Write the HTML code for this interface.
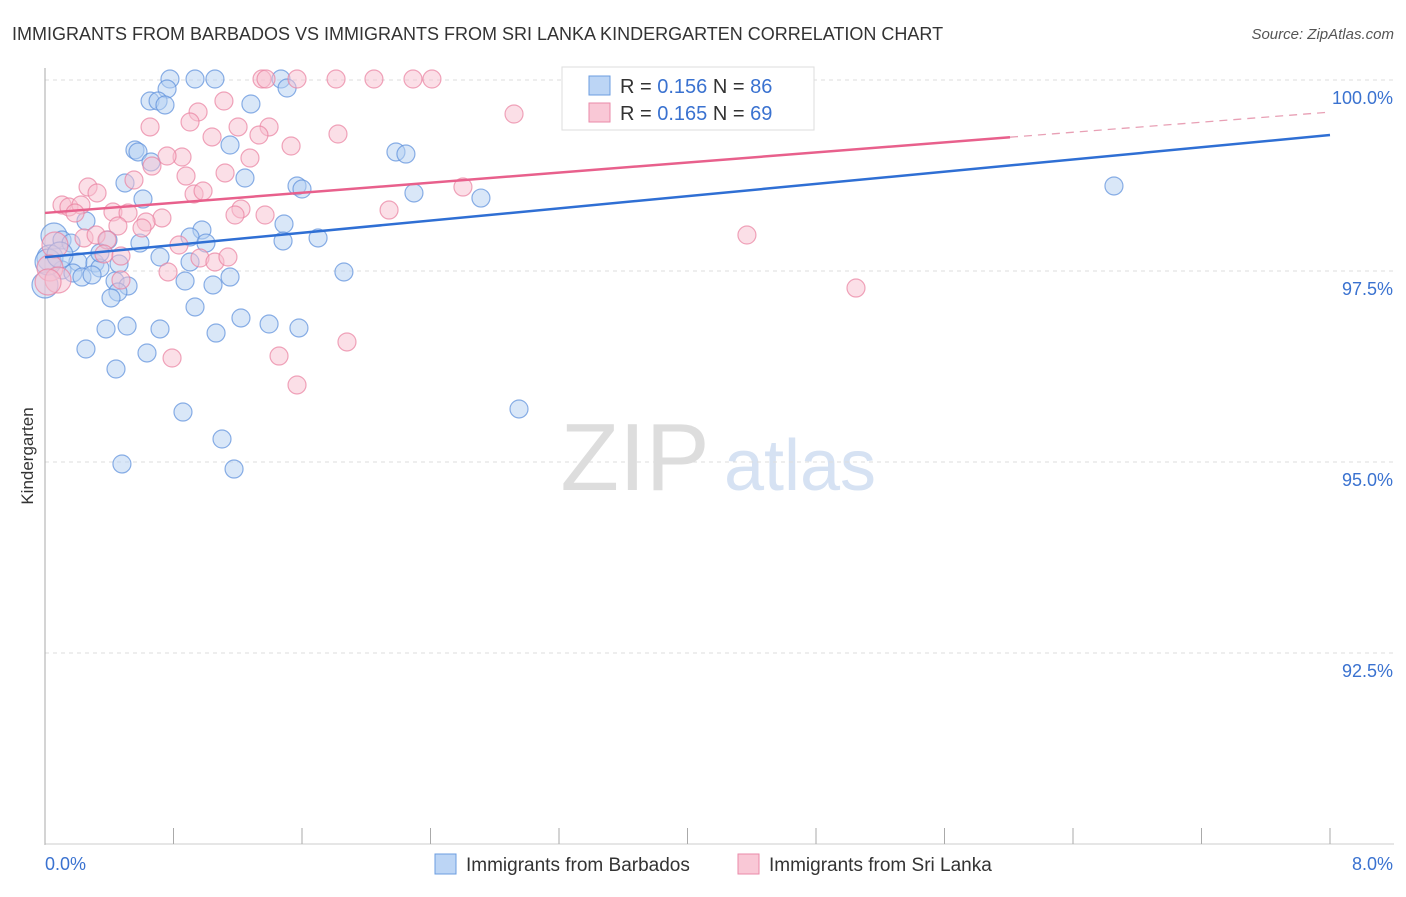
<!DOCTYPE html>
<html><head><meta charset="utf-8"><style>
body{margin:0;background:#fff;font-family:"Liberation Sans",sans-serif;}
svg text{font-family:"Liberation Sans",sans-serif;}
</style></head><body>
<svg id="c" width="1406" height="892" xmlns="http://www.w3.org/2000/svg">
<text x="12" y="40" font-size="18" fill="#333">IMMIGRANTS FROM BARBADOS VS IMMIGRANTS FROM SRI LANKA KINDERGARTEN CORRELATION CHART</text>
<text x="1394" y="39" font-size="15" fill="#555" text-anchor="end" font-style="italic">Source: ZipAtlas.com</text>
<text x="33" y="456" font-size="17" fill="#333" text-anchor="middle" transform="rotate(-90 33 456)">Kindergarten</text>
<g><text x="635" y="490" font-size="96" fill="#ddd" font-family="Liberation Serif" text-anchor="middle">ZIP</text><text x="800" y="490" font-size="72" fill="#d6e2f3" text-anchor="middle">atlas</text></g>
<g id="grid"></g><g id="axes"></g><g id="pts"></g><g id="lines"></g>
<g>
<rect x="562" y="67" width="252" height="63" fill="#fff" stroke="#ddd"/>
<rect x="589" y="76" width="21" height="19" fill="#bcd5f5" stroke="#6b9de0"/>
<text x="620" y="93" font-size="20" fill="#333">R = <tspan fill="#3a72d0">0.156</tspan>   N = <tspan fill="#3a72d0">86</tspan></text>
<rect x="589" y="103" width="21" height="19" fill="#f9c8d6" stroke="#ea8aa8"/>
<text x="620" y="120" font-size="20" fill="#333">R = <tspan fill="#3a72d0">0.165</tspan>   N = <tspan fill="#3a72d0">69</tspan></text>
</g>
<g>
<rect x="435" y="854" width="21" height="20" fill="#bcd5f5" stroke="#6b9de0"/>
<text x="466" y="871" font-size="19" fill="#333">Immigrants from Barbados</text>
<rect x="738" y="854" width="21" height="20" fill="#f9c8d6" stroke="#ea8aa8"/>
<text x="769" y="871" font-size="19" fill="#333">Immigrants from Sri Lanka</text>
</g>
</svg>
<script>
const yTicks=[100,97.5,95,92.5];
const yTickLabels=["100.0%","97.5%","95.0%","92.5%"];
const xTickLabels=["0.0%","8.0%"];
const trendBlue=[97.68,99.28];
const trendPink=[98.26,99.58];
const blueX=[170,195,215,281,287,167,150,158,165,251,135,138,230,396,406,151,125,245,297,302,414,481,143,1114,86,202,284,54,62,71,108,190,206,283,318,140,160,190,50,78,95,100,62,73,82,92,119,344,185,213,230,115,128,118,111,195,241,269,299,127,106,160,216,86,147,116,183,519,222,122,234,45,48,100,60].map(p=>+((p-45)/1285*8).toFixed(3));
const blueY=[79,79,79,79,88,89,101,101,105,104,150,152,145,152,154,162,183,178,186,189,193,198,199,186,221,230,224,236,240,243,240,237,243,241,238,243,257,262,258,262,263,268,270,273,277,275,264,272,281,285,277,281,286,292,298,307,318,324,328,326,329,329,333,349,353,369,412,409,439,464,469,285,262,253,255].map(p=>+(100-(p-80)/76.4).toFixed(3));
const pinkX=[262,266,297,336,374,413,432,224,198,190,514,150,238,269,259,338,212,291,182,167,250,152,225,186,134,88,97,194,203,62,69,81,75,241,389,113,128,162,146,235,265,463,747,142,118,84,96,107,179,200,215,228,104,121,55,50,58,168,121,856,347,172,279,297,48].map(p=>+((p-45)/1285*8).toFixed(3));
const pinkY=[79,79,79,79,79,79,79,101,112,122,114,127,127,127,135,134,137,146,157,156,158,166,173,176,180,187,193,194,191,205,207,205,213,209,210,212,213,218,222,215,215,187,235,228,226,238,235,240,245,258,262,257,254,256,245,268,280,272,280,288,342,358,356,385,282].map(p=>+(100-(p-80)/76.4).toFixed(3));
const NS="http://www.w3.org/2000/svg";
const X=v=>45+v/8*1285, Y=v=>80+(100-v)*76.4;
function mk(t,a,p){const e=document.createElementNS(NS,t);for(const k in a)e.setAttribute(k,a[k]);document.getElementById(p).appendChild(e);return e;}
yTicks.forEach((t,i)=>{
 const g=mk('line',{x1:45,x2:1394,y1:Y(t),y2:Y(t),stroke:'#ddd','stroke-dasharray':'4,4'},'grid');
 
 
 const l=mk('text',{x:1393,y:Y(t)+24,'font-size':18,fill:'#3a72d0','text-anchor':'end'},'axes');l.textContent=yTickLabels[i];
 
 
});
const ya=mk('line',{x1:45,x2:45,y1:68,y2:845,stroke:'#aaa'},'axes');


const xa=mk('line',{x1:45,x2:1394,y1:844,y2:844,stroke:'#ccc'},'axes');


for(let i=0;i<=10;i++){const t=mk('line',{x1:X(i*0.8),x2:X(i*0.8),y1:828,y2:844,stroke:'#aaa'},'axes');
 
 }
[[0,'start',45],[8,'end',1393]].forEach((d,i)=>{const t=mk('text',{x:d[2],y:870,'font-size':18,fill:'#3a72d0','text-anchor':d[1]},'axes');t.textContent=xTickLabels[i];
 
 });
function pts(xs,ys,f,s,n){xs.forEach((x,i)=>{const r=(x<0.1)?13:9;const c=mk('circle',{cx:X(x),cy:Y(ys[i]),r:r,fill:f,'fill-opacity':0.5,stroke:s,'stroke-opacity':0.7,'stroke-width':1.2},'pts');
 
 });}
pts(blueX,blueY,'#b4cff2','#5b8fdc','point-barbados');
pts(pinkX,pinkY,'#f7bfd0','#e9809f','point-srilanka');
const bl=mk('line',{x1:X(0),y1:Y(trendBlue[0]),x2:X(8),y2:Y(trendBlue[1]),stroke:'#2f6fd4','stroke-width':2.5},'lines');


const xm=(1010-45)/1285*8, ym=trendPink[0]+(trendPink[1]-trendPink[0])*xm/8;
const pl=mk('line',{x1:X(0),y1:Y(trendPink[0]),x2:X(xm),y2:Y(ym),stroke:'#e8608c','stroke-width':2.5},'lines');


const pd=mk('line',{x1:X(xm),y1:Y(ym),x2:X(8),y2:Y(trendPink[1]),stroke:'#e8a0b5','stroke-width':1.3,'stroke-dasharray':'8,6'},'lines');


</script>
</body></html>
